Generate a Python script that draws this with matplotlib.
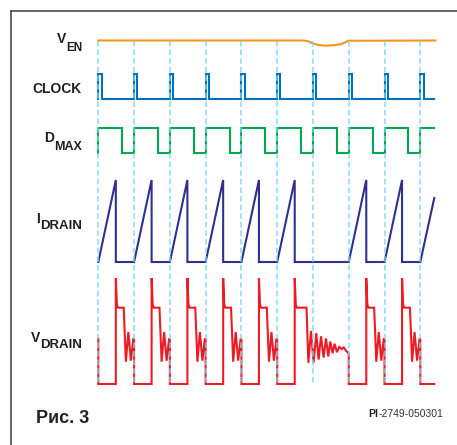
import numpy as np
import matplotlib
matplotlib.use('Agg')
import matplotlib.pyplot as plt
from matplotlib.lines import Line2D

plt.rcParams['font.family'] = ['Liberation Sans', 'DejaVu Sans']
plt.rcParams['lines.scale_dashes'] = False

W, H = 457, 445

# time axis in clock periods; clock edges at t = 0..9
clock_edges = list(range(10))
t_end = 9.39
clock_width = 0.09
dmax_on = 0.67

# V_EN: high, with a short dip around the 7th clock edge
ven_t = [0.0, 5.73, 5.87, 6.01, 6.15, 6.34, 6.57, 6.79, 6.99, 9.42]
ven_v = [1.0, 1.0, 0.97, 0.88, 0.83, 0.80, 0.82, 0.86, 0.99, 1.0]

# switching cycles (cycle 6 skipped while V_EN is low)
on_cycles = [0, 1, 2, 3, 4, 5, 7, 8]
idrain_peak = 0.49
idrain_last_t = [9.0, 9.39]
idrain_last_v = [0.0, 0.78]

# V_DRAIN shape inside one cycle (relative time, normalised level)
vd_start_v = 0.43
vd_on_t = [0.0, 0.49, 0.49, 0.52, 0.55]
vd_on_v = [0.0, 0.0, 1.0, 0.75, 0.72]
vd_ring_t = [0.71, 0.77, 0.84, 0.91, 0.98, 1.0]
vd_ring_v = [0.72, 0.21, 0.49, 0.22, 0.43, 0.42]
# long ringing when the next cycle is skipped
vd_long_t = [0.82, 0.87, 0.945, 1.017, 1.093, 1.157, 1.224, 1.297, 1.364, 1.428,
             1.484, 1.548, 1.604, 1.671, 1.736, 1.80, 1.86, 1.92, 2.0]
vd_long_v = [0.72, 0.20, 0.50, 0.20, 0.48, 0.23, 0.45, 0.25, 0.43, 0.26,
             0.40, 0.29, 0.38, 0.30, 0.35, 0.33, 0.345, 0.315, 0.29]

# ---- build the waveforms
clk_t, clk_v = [], []
for k in clock_edges:
    clk_t += [k, k, k + clock_width, k + clock_width]
    clk_v += [0, 1, 1, 0]
clk_t.append(t_end); clk_v.append(0)

dm_t, dm_v = [], []
for k in clock_edges:
    off = min(k + dmax_on, t_end)
    dm_t += [k, k, off]
    dm_v += [0, 1, 1]
    if off < t_end:
        dm_t.append(off); dm_v.append(0)

id_t, id_v = [], []
for k in on_cycles:
    id_t += [k, k + idrain_peak, k + idrain_peak]
    id_v += [0, 1, 0]
id_t += idrain_last_t; id_v += idrain_last_v

vd_t, vd_v = [0.0], [vd_start_v]
for k in on_cycles:
    vd_t += [k + x for x in vd_on_t]; vd_v += vd_on_v
    if k + 1 in on_cycles or k + 1 == 9:
        vd_t += [k + x for x in vd_ring_t]; vd_v += vd_ring_v
    else:
        vd_t += [k + x for x in vd_long_t]; vd_v += vd_long_v
vd_t += [9.0, t_end]; vd_v += [0.0, 0.0]

# ---- figure
P = (420.3 - 98.3) / 9
fig = plt.figure(figsize=(W / 100, H / 100), dpi=100)
ax = fig.add_axes([0, 0, 1, 1])
ax.set_xlim(-98.3 / P, (W - 98.3) / P)
ax.set_ylim(H, 0)
ax.axis('off')

traces = [  # (t, v, low, height, colour)
    (ven_t, ven_v, 66.5, 26, '#F7941D'),
    (clk_t, clk_v, 99, 25, '#0072BC'),
    (dm_t, dm_v, 153, 25, '#00A651'),
    (id_t, id_v, 262, 82, '#2E3192'),
    (vd_t, vd_v, 384, 106, '#ED1C24'),
]
for t, v, low, h, c in traces:
    ax.plot(t, low - h * np.array(v), color=c, lw=1.5, solid_joinstyle='miter')

ax.vlines(clock_edges, 40.5, 384, colors='#7DD5F7', lw=1.1,
          linestyles=(0, (4.0, 2.2)), zorder=5, alpha=0.9)

# ---- labels
ink = '#231F20'
renderer = fig.canvas.get_renderer()

def label(main, sub, y_main, y_sub, size=10, sub_size=9):
    if sub:
        s = fig.text(82 / W, 1 - y_sub / H, sub, ha='right', va='baseline',
                     fontsize=sub_size, fontweight='bold', color=ink)
        x = s.get_window_extent(renderer).x0 / W
    else:
        x = 82 / W
    fig.text(x, 1 - y_main / H, main, ha='right', va='baseline',
             fontsize=size, fontweight='bold', color=ink)

label('V', 'EN', 43, 51, sub_size=8.5)
label('CLOCK', None, 93, None)
label('D', 'MAX', 142, 150, sub_size=9)
label('I', 'DRAIN', 223.3, 229.3, sub_size=9.5)
label('V', 'DRAIN', 341.7, 347.7, sub_size=9.5)

fig.text(36 / W, 1 - 422.7 / H, 'Рис. 3', ha='left', va='baseline',
         fontsize=13, fontweight='bold', color=ink)
num = fig.text(443 / W, 1 - 417.3 / H, '-2749-050301', ha='right', va='baseline',
               fontsize=7.5, color='#333333')
fig.text(num.get_window_extent(renderer).x0 / W, 1 - 417.3 / H, 'PI', ha='right',
         va='baseline', fontsize=7.5, fontweight='bold', color=ink)

# frame
fig.add_artist(Line2D([11 / W, 1], [1 - 11 / H, 1 - 11 / H], transform=fig.transFigure,
                      color='#3c3c3c', lw=1.1))
fig.add_artist(Line2D([11 / W, 11 / W], [1 - 11 / H, 0], transform=fig.transFigure,
                      color='#3c3c3c', lw=1.1))

fig.savefig('out.png', dpi=100)
